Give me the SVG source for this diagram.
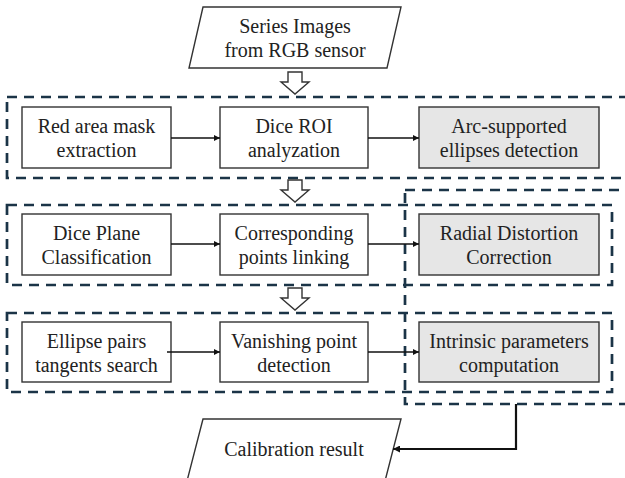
<svg xmlns="http://www.w3.org/2000/svg" width="625" height="478" viewBox="0 0 625 478">
<defs>
<style>
.box{fill:#fff;stroke:#333;stroke-width:1.4}
.gray{fill:#e6e6e6}
.grp{fill:none;stroke:#1b3447;stroke-width:2.7;stroke-dasharray:10 7}
.hol{fill:#fff;stroke:#333;stroke-width:1.4;stroke-linejoin:miter}
text{font-family:'Liberation Serif','Tinos','Times New Roman','DejaVu Serif',serif;font-size:20px;fill:#222;text-anchor:middle}
.con{fill:none;stroke:#111;stroke-width:1.4}
.con2{fill:none;stroke:#111;stroke-width:2.2}
</style>
<marker id="ah" viewBox="0 0 10 10" refX="10" refY="5" markerWidth="6" markerHeight="6" markerUnits="userSpaceOnUse" orient="auto"><path d="M0,0L10,5L0,10z" fill="#111"/></marker>
<marker id="ah2" viewBox="0 0 10 10" refX="10" refY="5" markerWidth="8" markerHeight="7" markerUnits="userSpaceOnUse" orient="auto"><path d="M0,0L10,5L0,10z" fill="#111"/></marker>
</defs>
<rect width="625" height="478" fill="#fff"/>

<g id="groups">
<rect class="grp" x="7" y="97" width="700" height="81"/>
<rect class="grp" x="405" y="190" width="260" height="214"/>
<rect class="grp" x="7" y="205" width="605" height="80"/>
<rect class="grp" x="7" y="313" width="605" height="79"/>
</g>

<g id="input">
<polygon class="box" points="203,7 401,7 387,68 189,68"/>
<text x="295" y="33" font-family="Liberation Serif, serif">Series Images</text>
<text x="295" y="57" font-family="Liberation Serif, serif">from RGB sensor</text>
</g>

<g id="red-mask">
<rect class="box" x="22" y="107" width="149" height="61"/>
<text x="96.5" y="133">Red area mask</text>
<text x="96.5" y="157">extraction</text>
</g>
<g id="dice-roi">
<rect class="box" x="220" y="107" width="148" height="61"/>
<text x="294" y="133">Dice ROI</text>
<text x="294" y="157">analyzation</text>
</g>
<g id="arc-ellipses">
<rect class="box gray" x="419" y="107" width="180" height="61"/>
<text x="509" y="133">Arc-supported</text>
<text x="509" y="157">ellipses detection</text>
</g>

<g id="dice-plane">
<rect class="box" x="22" y="214" width="149" height="61"/>
<text x="96.5" y="240">Dice Plane</text>
<text x="96.5" y="264">Classification</text>
</g>
<g id="corresponding">
<rect class="box" x="220" y="214" width="148" height="61"/>
<text x="294" y="240">Corresponding</text>
<text x="294" y="264">points linking</text>
</g>
<g id="radial">
<rect class="box gray" x="419" y="214" width="180" height="61"/>
<text x="509" y="240">Radial Distortion</text>
<text x="509" y="264">Correction</text>
</g>

<g id="ellipse-pairs">
<rect class="box" x="22" y="322" width="149" height="60"/>
<text x="96.5" y="347.5">Ellipse pairs</text>
<text x="96.5" y="371.5">tangents search</text>
</g>
<g id="vanishing">
<rect class="box" x="220" y="322" width="148" height="60"/>
<text x="294" y="347.5">Vanishing point</text>
<text x="294" y="371.5">detection</text>
</g>
<g id="intrinsic">
<rect class="box gray" x="419" y="322" width="180" height="60"/>
<text x="509" y="347.5">Intrinsic parameters</text>
<text x="509" y="371.5">computation</text>
</g>

<g id="output">
<polygon class="box" points="203,419 401,419 385,481 187,481"/>
<text x="294" y="456">Calibration result</text>
</g>

<g id="connectors">
<polygon class="hol" points="288,72 302,72 302,82 309,82 295,94 281,82 288,82"/>
<polygon class="hol" points="288,180 302,180 302,190 309,190 295,202 281,190 288,190"/>
<polygon class="hol" points="288,288 302,288 302,298 309,298 295,310 281,298 288,298"/>
<line class="con" x1="171" y1="138" x2="220" y2="138" marker-end="url(#ah)"/>
<line class="con" x1="368" y1="138" x2="419" y2="138" marker-end="url(#ah)"/>
<line class="con" x1="171" y1="244" x2="220" y2="244" marker-end="url(#ah)"/>
<line class="con" x1="368" y1="244" x2="419" y2="244" marker-end="url(#ah)"/>
<line class="con" x1="167" y1="352" x2="220" y2="352" marker-end="url(#ah)"/>
<line class="con" x1="368" y1="352" x2="419" y2="352" marker-end="url(#ah)"/>
<polyline class="con2" points="516,404 516,449 393,449" marker-end="url(#ah2)"/>
</g>
</svg>
